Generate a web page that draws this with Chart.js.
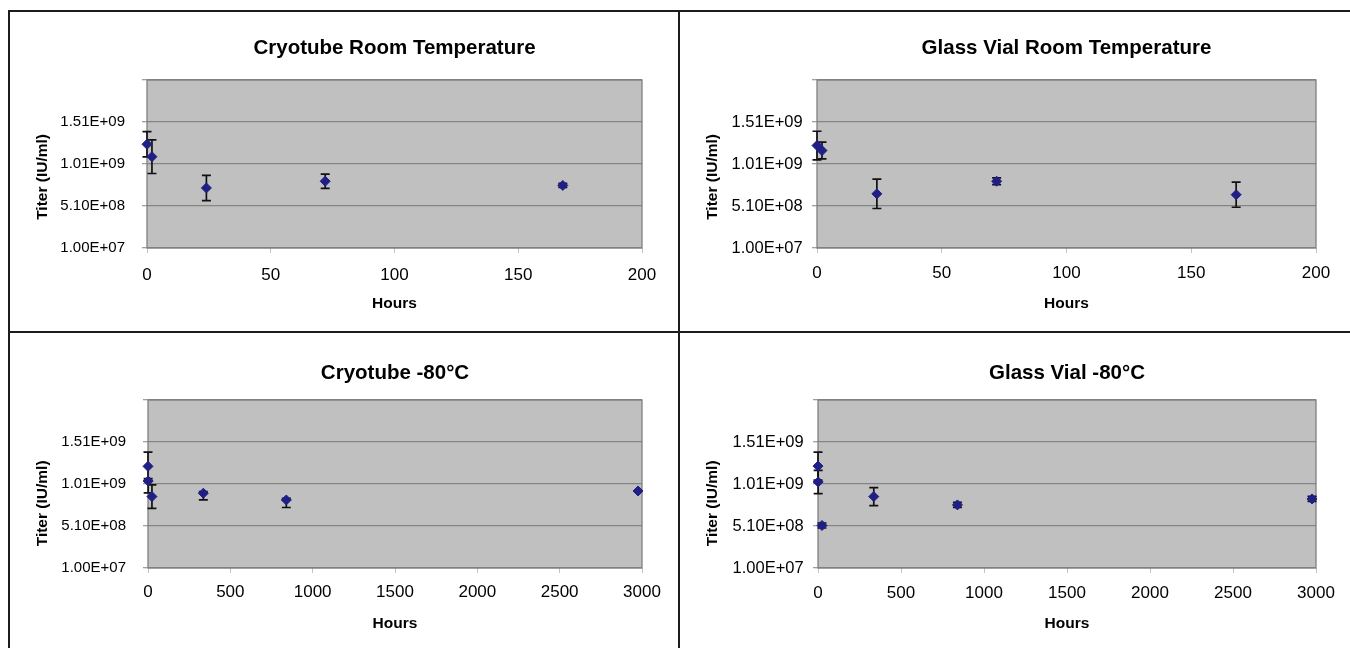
<!DOCTYPE html>
<html>
<head>
<meta charset="utf-8">
<script src="https://cdn.jsdelivr.net/npm/chart.js@4.4.1/dist/chart.umd.min.js"></script>
<style>
    body {margin: 0; background: #fff;}
    #pagina {position: relative; width: 1350px; height: 648px; overflow: hidden; background: #fff;}
    .linea {position: absolute; background: #1c1c1c;}
    canvas {position: absolute;}
</style>
</head>
<body>
<div id="pagina">
    <div class="linea" style="left:8px;top:10px;width:2px;height:638px"></div>
    <div class="linea" style="left:8px;top:10px;width:1342px;height:2px"></div>
    <div class="linea" style="left:678px;top:10px;width:2px;height:638px"></div>
    <div class="linea" style="left:8px;top:331px;width:1342px;height:2px"></div>
    <canvas id="cryoRoom" width="668" height="319" style="left:10px;top:12px"></canvas>
    <canvas id="glassRoom" width="670" height="319" style="left:680px;top:12px"></canvas>
    <canvas id="cryoFreezer" width="668" height="315" style="left:10px;top:333px"></canvas>
    <canvas id="glassFreezer" width="670" height="315" style="left:680px;top:333px"></canvas>
</div>
<script>
// Ejes
const xTicksRoom = [0, 50, 100, 150, 200];
const xTicksFreezer = [0, 500, 1000, 1500, 2000, 2500, 3000];
const yTickValues = [1.0e7, 5.1e8, 1.01e9, 1.51e9, 2.01e9];
const yTickLabels = ["1.00E+07", "5.10E+08", "1.01E+09", "1.51E+09", ""];

// Cryotube temperatura ambiente
const hoursCryoRoom = [0, 2, 24, 72, 168];
const titerCryoRoom = [1.245e9, 1.097e9, 7.25e8, 8.05e8, 7.55e8];
const errUpCryoRoom = [1.5e8, 2.0e8, 1.5e8, 8.5e7, 2.5e7];
const errDownCryoRoom = [1.5e8, 2.0e8, 1.5e8, 8.5e7, 2.5e7];

// Glass vial temperatura ambiente
const hoursGlassRoom = [0, 2, 24, 72, 168];
const titerGlassRoom = [1.23e9, 1.17e9, 6.55e8, 8.05e8, 6.45e8];
const errUpGlassRoom = [1.7e8, 1.0e8, 1.75e8, 4.0e7, 1.5e8];
const errDownGlassRoom = [1.7e8, 1.0e8, 1.75e8, 4.0e7, 1.5e8];

// Cryotube -80
const hoursCryoFreezer = [0, 1, 24, 336, 840, 2976];
const titerCryoFreezer = [1.22e9, 1.045e9, 8.6e8, 9.0e8, 8.2e8, 9.27e8];
const errUpCryoFreezer = [1.7e8, 3.0e7, 1.4e8, 2.0e7, 2.0e7, 0];
const errDownCryoFreezer = [1.7e8, 1.4e8, 1.4e8, 8.0e7, 9.0e7, 0];

// Glass vial -80
const hoursGlassFreezer = [0, 1, 24, 336, 840, 2976];
const titerGlassFreezer = [1.223e9, 1.034e9, 5.16e8, 8.6e8, 7.61e8, 8.32e8];
const errUpGlassFreezer = [1.66e8, 1.38e8, 3.0e7, 1.07e8, 3.0e7, 3.0e7];
const errDownGlassFreezer = [1.66e8, 1.38e8, 3.0e7, 1.07e8, 3.0e7, 3.0e7];

const fuente = '"Liberation Sans", Arial, sans-serif';

// Fondo gris y marco del área de trazado
const fondoPlot = {
    id: "fondoPlot",
    beforeDraw(chart) {
        const {ctx, chartArea: a} = chart;
        ctx.save();
        ctx.fillStyle = "#c0c0c0";
        ctx.fillRect(a.left, a.top, a.right - a.left, a.bottom - a.top);
        ctx.restore();
    },
    beforeDatasetsDraw(chart) {
        const {ctx, chartArea: a} = chart;
        ctx.save();
        ctx.strokeStyle = "#808080";
        ctx.lineWidth = 1.3;
        ctx.strokeRect(a.left, a.top, a.right - a.left, a.bottom - a.top);
        ctx.restore();
    }
};

// Barras de error
const barrasError = {
    id: "barrasError",
    beforeDatasetsDraw(chart) {
        const {ctx, scales: {x, y}} = chart;
        chart.data.datasets.forEach(ds => {
            ds.data.forEach((p, i) => {
                const up = ds.errUp[i];
                const down = ds.errDown[i];
                if (!up && !down) {return;}
                const px = x.getPixelForValue(p.x);
                const top = y.getPixelForValue(p.y + up);
                const bottom = y.getPixelForValue(p.y - down);
                ctx.save();
                ctx.strokeStyle = "#111";
                ctx.lineWidth = 1.7;
                ctx.beginPath();
                ctx.moveTo(px, top);
                ctx.lineTo(px, bottom);
                ctx.moveTo(px - 4.5, top);
                ctx.lineTo(px + 4.5, top);
                ctx.moveTo(px - 4.5, bottom);
                ctx.lineTo(px + 4.5, bottom);
                ctx.stroke();
                ctx.restore();
            });
        });
    }
};

function crearPanel(id, titulo, horas, titer, errUp, errDown, xTicks, caja) {
    const puntos = horas.map((h, i) => ({x: h, y: titer[i]}));

    return new Chart(
        document.getElementById(id),
        {
            type: "scatter",
            data: {
                datasets: [{
                    data: puntos,
                    errUp: errUp,
                    errDown: errDown,
                    pointStyle: "rectRot",
                    pointRadius: 5,
                    pointBackgroundColor: "#1f1f85",
                    pointBorderColor: "#1f1f85",
                    pointBorderWidth: 1,
                    clip: false
                }]
            },
            options: {
                responsive: false,
                animation: false,
                events: [],
                layout: {padding: {left: 0, top: 0, bottom: 0, right: caja.padRight}},
                plugins: {
                    legend: {display: false},
                    tooltip: {enabled: false},
                    title: {
                        display: true,
                        text: titulo,
                        fullSize: false,
                        color: "#000",
                        font: {family: fuente, size: 20.5, weight: "bold"},
                        padding: {top: caja.titleTop, bottom: caja.titleBottom}
                    }
                },
                scales: {
                    x: {
                        type: "linear",
                        min: xTicks[0],
                        max: xTicks[xTicks.length - 1],
                        afterBuildTicks: s => {s.ticks = xTicks.map(v => ({value: v}));},
                        afterFit: s => {s.height = caja.xHeight;},
                        border: {display: false},
                        grid: {drawOnChartArea: false, tickLength: 5, tickColor: "#c4c4c4", lineWidth: 1},
                        ticks: {
                            callback: v => String(v),
                            autoSkip: false,
                            maxRotation: 0,
                            padding: caja.xTickPad,
                            color: "#000",
                            font: {family: fuente, size: 17}
                        },
                        title: {
                            display: true,
                            text: "Hours",
                            color: "#000",
                            font: {family: fuente, size: 15.5, weight: "bold"},
                            padding: {top: 0, bottom: caja.xTitleBottom}
                        }
                    },
                    y: {
                        min: yTickValues[0],
                        max: yTickValues[yTickValues.length - 1],
                        afterBuildTicks: s => {s.ticks = yTickValues.map(v => ({value: v}));},
                        afterFit: s => {s.width = caja.yWidth;},
                        border: {display: false},
                        grid: {color: "#858585", lineWidth: 1.3, tickLength: 5, tickColor: "#a0a0a0"},
                        ticks: {
                            callback: (v, i) => yTickLabels[i],
                            padding: caja.yTickPad,
                            color: "#000",
                            font: {family: fuente, size: caja.yTickSize}
                        },
                        title: {
                            display: true,
                            // espacios al final para bajar el texto como en el original
                            text: "Titer (IU/ml)" + " ".repeat(caja.yTitleShift),
                            color: "#000",
                            font: {family: fuente, size: 15.5, weight: "bold"},
                            padding: {top: 23.7, bottom: 0}
                        }
                    }
                }
            },
            plugins: [fondoPlot, barrasError]
        }
    );
}

const cajaArriba = {padRight: 36, xHeight: 83, titleTop: 24, titleBottom: 19.4, xTickPad: 11.8, xTitleBottom: 17.7, yTitleShift: 6};
const cajaAbajo = {padRight: 36, xHeight: 80, titleTop: 28, titleBottom: 14.4, xTickPad: 9.1, xTitleBottom: 14.7, yTitleShift: 9};

crearPanel("cryoRoom", "Cryotube Room Temperature", hoursCryoRoom, titerCryoRoom, errUpCryoRoom, errDownCryoRoom, xTicksRoom,
    {...cajaArriba, yWidth: 137, yTickPad: 17, yTickSize: 15});
crearPanel("glassRoom", "Glass Vial Room Temperature", hoursGlassRoom, titerGlassRoom, errUpGlassRoom, errDownGlassRoom, xTicksRoom,
    {...cajaArriba, padRight: 34, yWidth: 137, yTickPad: 9.3, yTickSize: 16.5, xTickPad: 10.1});
crearPanel("cryoFreezer", "Cryotube -80°C", hoursCryoFreezer, titerCryoFreezer, errUpCryoFreezer, errDownCryoFreezer, xTicksFreezer,
    {...cajaAbajo, yWidth: 138, yTickPad: 17, yTickSize: 15});
crearPanel("glassFreezer", "Glass Vial -80°C", hoursGlassFreezer, titerGlassFreezer, errUpGlassFreezer, errDownGlassFreezer, xTicksFreezer,
    {...cajaAbajo, padRight: 34, yWidth: 138, yTickPad: 9.3, yTickSize: 16.5, xTickPad: 10.1});
</script>
</body>
</html>
